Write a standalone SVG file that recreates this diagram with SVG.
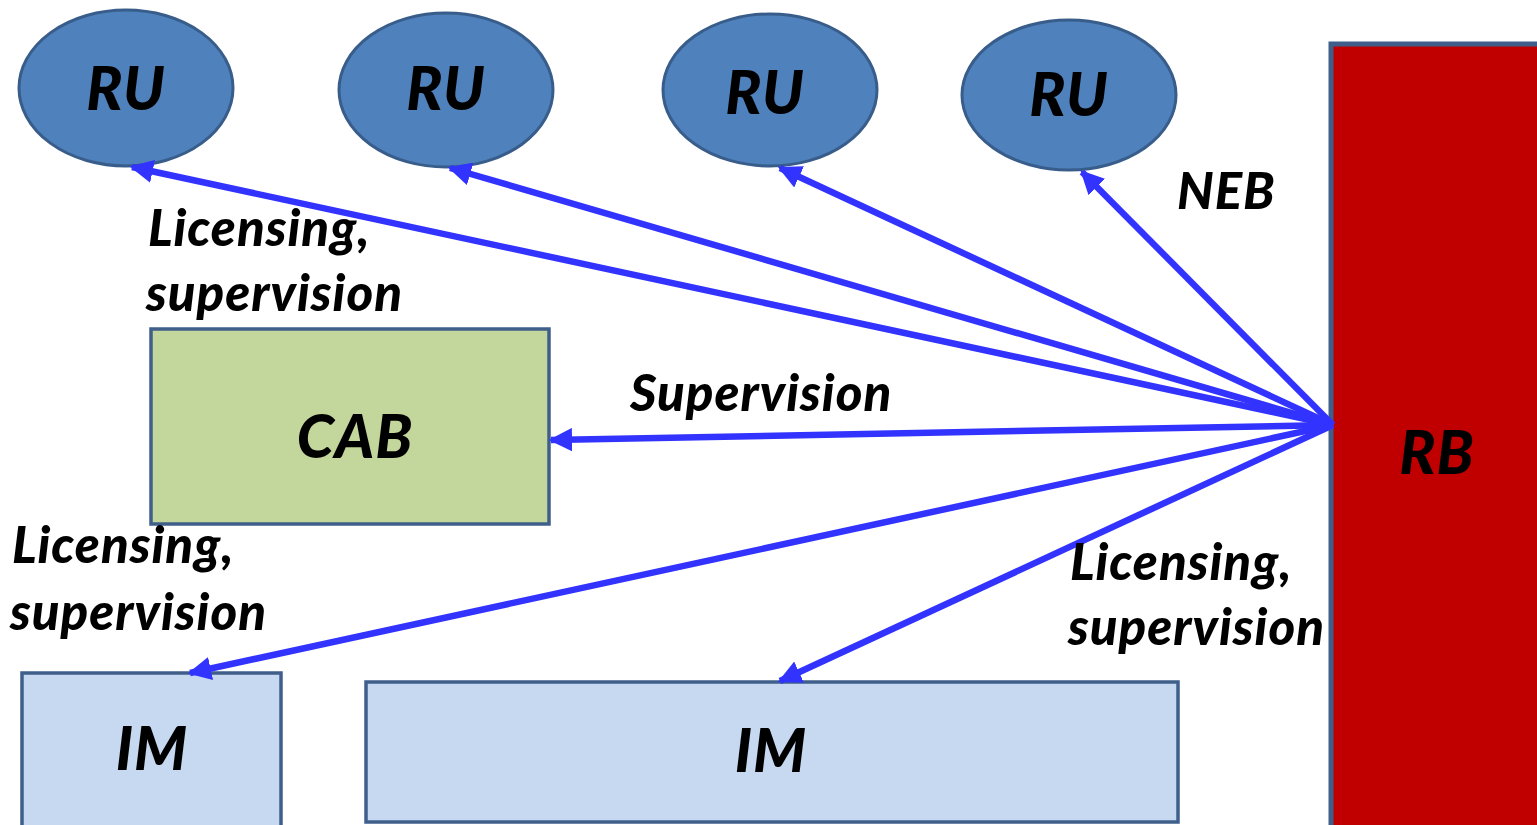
<svg xmlns="http://www.w3.org/2000/svg" width="1537" height="825" viewBox="0 0 1537 825">
<style>
.ru{fill:#4f81bd;stroke:#385d8a;stroke-width:3}
.cab{fill:#c3d69b;stroke:#3f5f8a;stroke-width:3.5}
.im{fill:#c6d9f1;stroke:#3f5f8a;stroke-width:3.5}
.rb{fill:#c00000;stroke:#3f5f8a;stroke-width:5}
text{font-family:Lato,"Open Sans","Liberation Sans",sans-serif;font-weight:900;font-style:italic;fill:#000}
.big{font-size:60px;text-anchor:middle;letter-spacing:1px}
.lbl{font-size:51px;letter-spacing:1px}
.conn line{stroke:#3333ff;stroke-width:6.5}
</style>
<defs>
<marker id="ah" viewBox="0 0 10 10" refX="9" refY="5" markerWidth="3.6" markerHeight="3.6" markerUnits="strokeWidth" orient="auto">
<path d="M0,0 L10,5 L0,10 z" fill="#3333ff"/>
</marker>
</defs>
<rect width="1537" height="825" fill="#ffffff"/>
<g id="ru1"><ellipse class="ru" cx="126" cy="88" rx="107" ry="78"/><text class="big" x="126" y="110">RU</text></g>
<g id="ru2"><ellipse class="ru" cx="446" cy="90" rx="107" ry="77"/><text class="big" x="446" y="110">RU</text></g>
<g id="ru3"><ellipse class="ru" cx="770" cy="90" rx="107" ry="76"/><text class="big" x="765" y="114">RU</text></g>
<g id="ru4"><ellipse class="ru" cx="1069" cy="95" rx="107" ry="75"/><text class="big" x="1069" y="116">RU</text></g>
<g id="rb"><rect class="rb" x="1331" y="44" width="220" height="800"/><text class="big" x="1437" y="474">RB</text></g>
<g id="cab"><rect class="cab" x="151" y="329" width="398" height="195"/><text class="big" x="355" y="458">CAB</text></g>
<g id="im1"><rect class="im" x="22" y="673" width="259" height="170"/><text class="big" x="152" y="770">IM</text></g>
<g id="im2"><rect class="im" x="366" y="682" width="812" height="140"/><text class="big" x="771" y="772">IM</text></g>
<g id="connectors" class="conn">
<line x1="1333" y1="425" x2="132" y2="167" marker-end="url(#ah)"/>
<line x1="1333" y1="425" x2="450" y2="168" marker-end="url(#ah)"/>
<line x1="1333" y1="425" x2="780" y2="168" marker-end="url(#ah)"/>
<line x1="1333" y1="425" x2="1082" y2="172" marker-end="url(#ah)"/>
<line x1="1333" y1="425" x2="551" y2="440" marker-end="url(#ah)"/>
<line x1="1333" y1="425" x2="190" y2="673" marker-end="url(#ah)"/>
<line x1="1333" y1="425" x2="780" y2="681" marker-end="url(#ah)"/>
</g>
<g id="labels">
<text class="lbl" x="148" y="246">Licensing,</text>
<text class="lbl" x="146" y="311">supervision</text>
<text class="lbl" x="630" y="411">Supervision</text>
<text class="lbl" x="1177" y="209">NEB</text>
<text class="lbl" x="12" y="563">Licensing,</text>
<text class="lbl" x="10" y="630">supervision</text>
<text class="lbl" x="1070" y="580">Licensing,</text>
<text class="lbl" x="1068" y="645">supervision</text>
</g>
</svg>
